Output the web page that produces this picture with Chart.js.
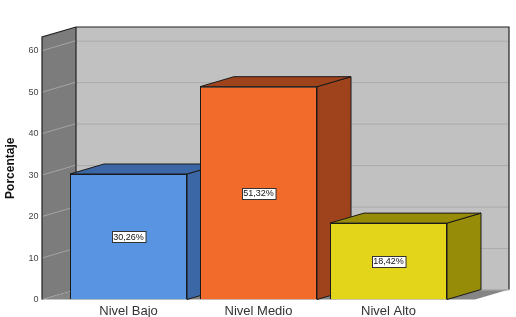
<!DOCTYPE html>
<html>
<head>
<meta charset="utf-8">
<script src="https://cdn.jsdelivr.net/npm/chart.js@4/dist/chart.umd.min.js"></script>
<style>
  html, body { margin: 0; padding: 0; background: #fff; overflow: hidden; }
  canvas { display: block; }
</style>
</head>
<body>
<canvas id="barChart" width="516" height="317"></canvas>
<script>
const categories = ['Nivel Bajo', 'Nivel Medio', 'Nivel Alto'];
const percentages = [30.26, 51.32, 18.42];
const valueLabels = ['30,26%', '51,32%', '18,42%'];
const yTicks = [0, 10, 20, 30, 40, 50, 60];

const frontColors = ['#5894e2', '#f36b2a', '#e3d51a'];
const darkColors = ['#3b67a6', '#9f431c', '#978c08'];

// depth of the 3d box
const DX = 34, DY = -10;
const EXT = 21.5; // walls reach past the category band

const walls3d = {
  id: 'walls3d',
  beforeDatasetsDraw(chart) {
    const { ctx, chartArea: a, scales } = chart;
    const y = scales.y;
    const left = a.left - EXT, right = a.right + EXT;
    const top = a.top, bottom = a.bottom;
    ctx.save();
    // back wall
    ctx.fillStyle = '#c1c1c1';
    ctx.fillRect(left + DX, top + DY, right - left, bottom - top);
    // left wall
    ctx.fillStyle = '#7c7c7c';
    ctx.beginPath();
    ctx.moveTo(left, top);
    ctx.lineTo(left + DX, top + DY);
    ctx.lineTo(left + DX, bottom + DY);
    ctx.lineTo(left, bottom);
    ctx.closePath();
    ctx.fill();
    // floor
    ctx.fillStyle = '#858585';
    ctx.beginPath();
    ctx.moveTo(left, bottom);
    ctx.lineTo(right, bottom);
    ctx.lineTo(right + DX, bottom + DY);
    ctx.lineTo(left + DX, bottom + DY);
    ctx.closePath();
    ctx.fill();
    // grid lines
    ctx.lineWidth = 1;
    yTicks.forEach(v => {
      const py = y.getPixelForValue(v);
      ctx.strokeStyle = '#ababab';
      ctx.beginPath();
      ctx.moveTo(left + DX, py + DY + 0.5);
      ctx.lineTo(right + DX, py + DY + 0.5);
      ctx.stroke();
      ctx.strokeStyle = '#a4a4a4';
      if (v === 0) ctx.setLineDash([2, 2]);
      ctx.beginPath();
      ctx.moveTo(left, py);
      ctx.lineTo(left + DX, py + DY);
      ctx.stroke();
      ctx.setLineDash([]);
    });
    // edges
    ctx.strokeStyle = '#222';
    ctx.lineWidth = 1.2;
    ctx.beginPath();
    ctx.moveTo(left, bottom);
    ctx.lineTo(left, top);
    ctx.lineTo(left + DX, top + DY);
    ctx.lineTo(right + DX, top + DY);
    ctx.lineTo(right + DX, bottom + DY);
    ctx.moveTo(left + DX, top + DY);
    ctx.lineTo(left + DX, bottom + DY);
    ctx.stroke();

    // side and top faces of the bars
    const meta = chart.getDatasetMeta(0);
    ctx.lineWidth = 1;
    ctx.strokeStyle = '#1a1a1a';
    meta.data.forEach((bar, i) => {
      const x1 = bar.x - bar.width / 2, x2 = bar.x + bar.width / 2;
      const yt = bar.y, yb = bar.base;
      ctx.fillStyle = darkColors[i];
      ctx.beginPath();
      ctx.moveTo(x2, yt);
      ctx.lineTo(x2 + DX, yt + DY);
      ctx.lineTo(x2 + DX, yb + DY);
      ctx.lineTo(x2, yb);
      ctx.closePath();
      ctx.fill();
      ctx.stroke();
      ctx.beginPath();
      ctx.moveTo(x1, yt);
      ctx.lineTo(x1 + DX, yt + DY);
      ctx.lineTo(x2 + DX, yt + DY);
      ctx.lineTo(x2, yt);
      ctx.closePath();
      ctx.fill();
      ctx.stroke();
    });
    ctx.restore();
  },
  afterDatasetsDraw(chart) {
    const { ctx } = chart;
    const meta = chart.getDatasetMeta(0);
    ctx.save();
    ctx.font = '9px "Liberation Sans", Arial, sans-serif';
    ctx.textAlign = 'center';
    ctx.textBaseline = 'middle';
    meta.data.forEach((bar, i) => {
      const cy = (bar.y + bar.base) / 2;
      const w = ctx.measureText(valueLabels[i]).width + 3;
      const h = 11;
      const bx = Math.round(bar.x - w / 2) + 0.5, by = Math.round(cy - h / 2) + 0.5;
      ctx.fillStyle = '#fff';
      ctx.fillRect(bx, by, w, h);
      ctx.strokeStyle = '#333';
      ctx.lineWidth = 1;
      ctx.strokeRect(bx, by, w, h);
      ctx.fillStyle = '#111';
      ctx.fillText(valueLabels[i], bar.x, cy + 0.5);
    });
    ctx.restore();
  }
};

new Chart(document.getElementById('barChart'), {
  type: 'bar',
  data: {
    labels: categories,
    datasets: [{
      data: percentages,
      backgroundColor: frontColors,
      borderColor: '#1a1a1a',
      borderWidth: 1,
      barPercentage: 0.9,
      categoryPercentage: 1
    }]
  },
  options: {
    responsive: false,
    animation: false,
    layout: { padding: { left: 0, right: 62.5, top: 37, bottom: 0 } },
    plugins: {
      legend: { display: false },
      tooltip: { enabled: false }
    },
    scales: {
      x: {
        grid: { display: false, drawTicks: false },
        border: { display: false },
        ticks: {
          padding: 4,
          color: '#333',
          font: { family: '"Liberation Sans", Arial, sans-serif', size: 13 }
        },
        afterFit(scale) { scale.height = 17.5; }
      },
      y: {
        min: 0,
        max: 63.3,
        grid: { display: false, drawTicks: false },
        border: { display: false },
        ticks: {
          stepSize: 10,
          includeBounds: false,
          padding: 25,
          color: '#444',
          font: { family: '"Liberation Sans", Arial, sans-serif', size: 9 }
        },
        title: {
          display: true,
          text: 'Porcentaje',
          color: '#111',
          padding: { top: 3, bottom: 0 },
          font: { family: '"Liberation Sans", Arial, sans-serif', size: 12, weight: 'bold' }
        },
        afterFit(scale) {
          scale.width = 63.5;
          // tick padding would otherwise reserve space above and below
          scale.paddingTop = 0;
          scale.paddingBottom = 0;
        }
      }
    }
  },
  plugins: [walls3d]
});
</script>
</body>
</html>
